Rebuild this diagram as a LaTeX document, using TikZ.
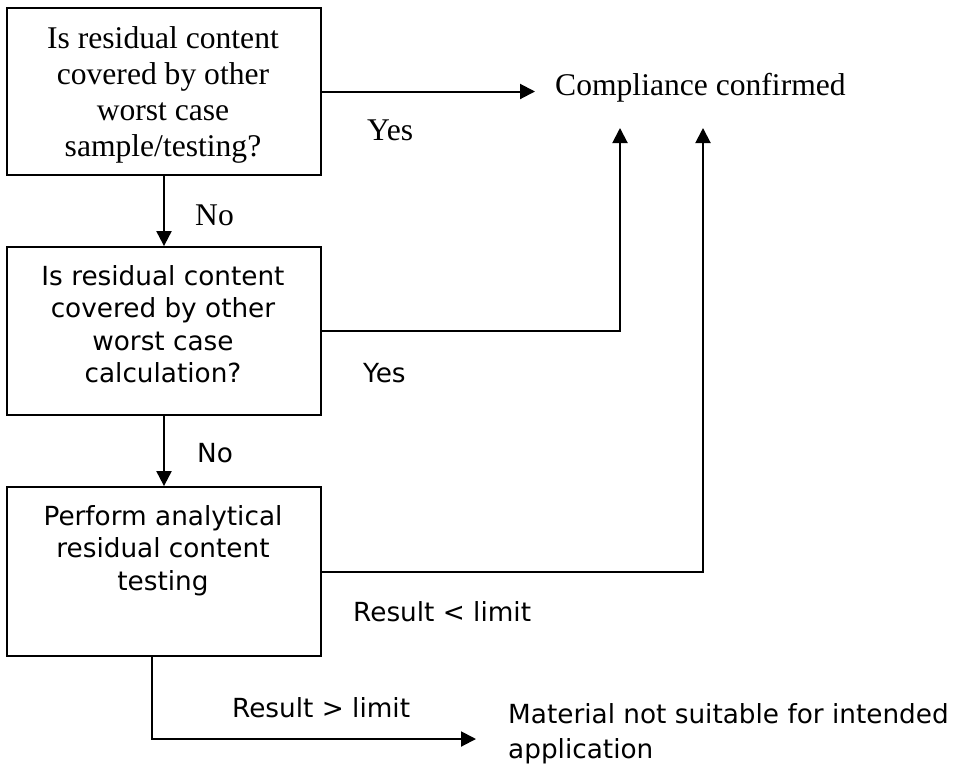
\documentclass[tikz,border=0pt]{standalone}
\usepackage{fontspec}
\setmainfont{Liberation Serif}
\newfontfamily\vsans{DejaVu Sans}
\usetikzlibrary{arrows.meta}
\tikzset{
  serif/.style={font=\fontsize{31.6}{36}\selectfont, inner sep=0pt},
  sans/.style={font=\vsans\fontsize{26.3}{32.5}\selectfont, inner sep=0pt},
  sansm/.style={font=\vsans\fontsize{26.3}{35}\selectfont, inner sep=0pt},
  box/.style={draw, line width=1.8pt, minimum width=314pt, minimum height=167pt, inner sep=0pt},
  arr/.style={line width=2pt, -{Triangle[length=15pt,width=15pt]}},
  conn/.style={line width=2pt}
}
\begin{document}
\begin{tikzpicture}[x=1pt,y=-1pt]
\useasboundingbox (0,0) rectangle (957,780);
% boxes
\node[box] (b1) at (164,91.5) {};
\node[box, minimum height=168pt] (b2) at (164,331) {};
\node[box, minimum height=169pt] (b3) at (164,571.5) {};
% box texts
\node[serif, anchor=north, align=center] (t1) at (163,26) {Is residual content\\covered by other\\worst case\\sample/testing?};
\node[sans, anchor=north, align=center] (t2) at (163,265) {Is residual content\\covered by other\\worst case\\calculation?};
\node[sans, anchor=north, align=center] (t3) at (163,505) {Perform analytical\\residual content\\testing};
% outcomes
\node[serif, anchor=base west] (comp) at (555,95) {Compliance confirmed};
\node[sansm, anchor=north west, align=left] (mat) at (508,703) {Material not suitable for intended\\application};
% coordinates
\coordinate (c1) at (620,128);
\coordinate (c2) at (703,128);
\coordinate (d1) at (152,739);
\coordinate (m1) at (476,739);
% connectors
\draw[arr, shorten >=20pt] (b1.east) -- (b1.east -| comp.west);
\draw[arr] (b1.south) -- (b2.north);
\draw[arr] (b2.south) -- (b3.north);
\draw[arr] (b2.east) -| (c1);
\draw[arr] (b3.east) -| (c2);
\draw[arr] (b3.south -| d1) |- (m1);
% labels
\node[serif, anchor=base west] (yes1) at (367,140) {Yes};
\node[serif, anchor=base west] (no1) at (195,225) {No};
\node[sans, anchor=base west] (yes2) at (363,382) {Yes};
\node[sans, anchor=base west] (no2) at (197,462) {No};
\node[sans, anchor=base west] (rlt) at (353,621) {Result < limit};
\node[sans, anchor=base west] (rgt) at (232,717) {Result > limit};
\end{tikzpicture}
\end{document}
